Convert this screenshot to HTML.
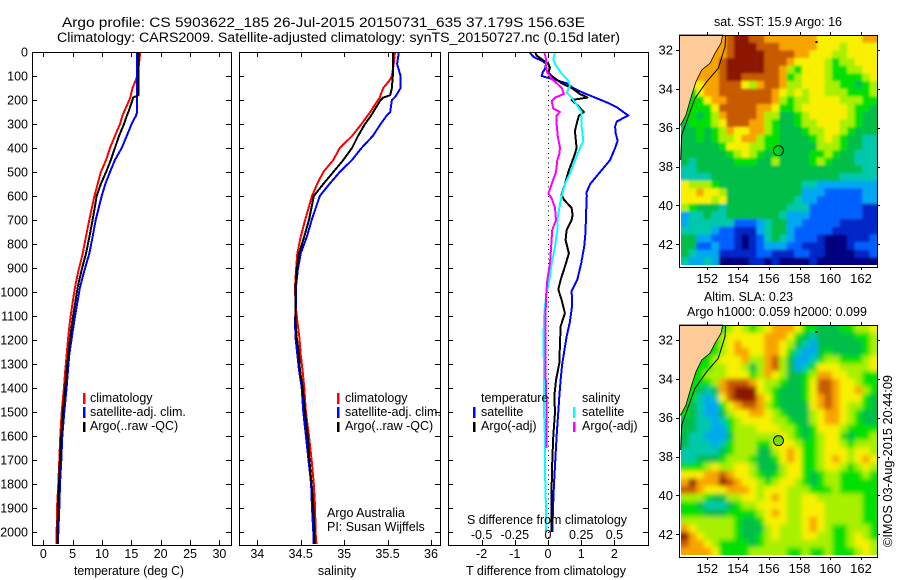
<!DOCTYPE html>
<html>
<head>
<meta charset="utf-8">
<title>Argo profile</title>
<style>
html,body{margin:0;padding:0;background:#fff;}
svg{display:block;font-family:"Liberation Sans",sans-serif;fill:#000;}
text{font-size:12.5px;}
.t{font-size:13.5px;}
</style>
</head>
<body>
<svg id="chart" xmlns="http://www.w3.org/2000/svg" width="900" height="580" viewBox="0 0 900 580">
<defs>
<filter id="soft1" x="-5%" y="-5%" width="110%" height="110%"><feGaussianBlur stdDeviation="1.4"/></filter>
<filter id="soft2" x="-5%" y="-5%" width="110%" height="110%"><feGaussianBlur stdDeviation="2.4"/></filter>
<clipPath id="clipSst"><rect x="681" y="35" width="196.5" height="230"/></clipPath>
<clipPath id="clipSla"><rect x="681" y="325" width="196.5" height="230"/></clipPath>
<clipPath id="clipP1"><rect x="32" y="52" width="199" height="493"/></clipPath>
<clipPath id="clipP2"><rect x="239" y="52" width="201" height="493"/></clipPath>
<clipPath id="clipP3"><rect x="448" y="52" width="200" height="493"/></clipPath>
</defs>
<text class="t" x="62" y="27" textLength="523" lengthAdjust="spacingAndGlyphs">Argo profile: CS 5903622_185 26-Jul-2015 20150731_635 37.179S 156.63E</text>
<text class="t" x="57" y="42" textLength="563" lengthAdjust="spacingAndGlyphs">Climatology: CARS2009. Satellite-adjusted climatology: synTS_20150727.nc (0.15d later)</text>
<g id="layer"></g>
</svg>
<script>
// ---- profile data ----
const depthsProfile = [0,50,100,120,150,180,190,200,250,265,300,350,400,450,500,550,600,700,770,840,910,980,1050,1120,1190,1260,1325,1395,1500,1600,1700,1800,1900,2000,2050];
const tempClim = [16.5,16.3,16.0,15.7,15.2,14.9,14.8,14.65,13.75,13.5,13.07,12.2,11.36,10.7,9.8,9.27,8.7,7.84,7.25,6.71,6.0,5.4,4.95,4.55,4.25,3.98,3.75,3.53,3.13,2.9,2.73,2.55,2.33,2.28,2.25];
const tempSat = [15.96,16,16,16,16,16,16,16,16,15.8,15.05,14.2,13.35,12.2,11.36,10.57,9.95,8.92,8.4,7.84,7.0,6.25,5.75,5.28,4.85,4.43,4.2,3.98,3.58,3.24,3.07,2.85,2.73,2.56,2.5];
const tempArgo = [16.2,16.2,16.2,16.2,16.2,16.2,15.3,15.2,14.5,14.25,13.75,12.9,12.2,11.5,10.7,9.8,9.1,8.4,7.85,7.27,6.5,5.86,5.4,4.94,4.6,4.26,4.0,3.75,3.35,3.07,2.85,2.68,2.5,2.42,2.42];
const salClim = [35.585,35.57,35.55,35.52,35.45,35.42,35.41,35.39,35.30,35.27,35.2,35.09,34.95,34.875,34.76,34.69,34.63,34.55,34.50,34.46,34.446,34.434,34.44,34.46,34.485,34.50,34.52,34.54,34.56,34.595,34.625,34.65,34.665,34.67,34.68];
const salSat = [35.63,35.61,35.65,35.65,35.65,35.6,35.58,35.55,35.53,35.49,35.42,35.33,35.2,35.09,34.95,34.83,34.72,34.626,34.57,34.50,34.465,34.446,34.446,34.434,34.44,34.46,34.48,34.51,34.53,34.56,34.59,34.62,34.63,34.645,34.645];
const salArgo = [35.565,35.56,35.56,35.555,35.55,35.53,35.45,35.42,35.335,35.31,35.24,35.16,35.09,34.99,34.875,34.76,34.65,34.595,34.54,34.48,34.454,34.44,34.44,34.44,34.454,34.48,34.49,34.52,34.55,34.58,34.60,34.625,34.645,34.66,34.66];

const depthsDiffSatT = [0,20,40,50,70,85,100,110,130,150,170,190,210,230,245,265,275,290,310,340,370,400,450,500,550,585,600,700,742,811,880,950,996,1054,1124,1186,1297,1367,1436,1500,1600,1700,1800,1900,2000];
const diffSatT = [-.56,-.44,-.14,-.06,-.09,-.16,-.19,.06,.56,.76,1.06,1.42,1.77,2.07,2.22,2.42,2.27,2.07,2.02,2.04,2.10,2.02,1.87,1.57,1.27,1.16,1.17,1.14,1.135,1.09,1.0,.88,.71,.73,.66,.56,.43,.38,.34,.31,.26,.22,.18,.15,.13];
const depthsDiffArgoT = [0,15,35,50,65,85,105,130,150,175,190,200,225,250,265,300,330,370,400,425,500,550,595,615,650,680,700,742,784,839,894,950,989,1033,1088,1144,1214,1297,1367,1436,1500,1600,1700,1800,1900,2000];
const diffArgoT = [-.39,-.34,-.14,.01,.06,.01,.16,.41,.71,.96,1.19,.71,.91,1.08,.93,.86,.81,.84,.86,.81,.61,.51,.41,.48,.71,.74,.71,.56,.53,.63,.51,.38,.31,.41,.51,.38,.36,.34,.24,.19,.21,.16,.13,.11,.11,.11];
const depthsDiffSatS = [0,30,50,90,120,140,170,190,220,250,280,310,370,400,450,500,550,600,650,700,742,811,880,950,1019,1088,1186,1241,1300,1400,1500,1600,1700,1800,1900,2000];
const diffSatS = [.053,.04,.053,.103,.153,.166,.141,.178,.216,.254,.254,.254,.266,.241,.203,.171,.128,.103,.085,.07,.07,.053,.028,.01,-.015,-.028,-.035,-.035,-.03,-.03,-.03,-.023,-.023,-.02,-.015,-.015];
const depthsDiffArgoS = [0,30,60,85,110,130,150,175,190,205,235,250,265,300,350,400,425,450,500,550,590,610,650,700,742,811,880,950,1019,1158,1300,1400,1500,1650];
const diffArgoS = [-.028,-.015,-.015,-.005,.028,.065,.103,.12,.053,.028,.04,.09,.065,.065,.073,.09,.085,.07,.06,.028,.003,.028,.053,.06,.032,.023,.015,-.005,-.015,-.02,-.02,-.015,-.01,-.01];

// ---- tick labels ----
const depthTicks = [0,100,200,300,400,500,600,700,800,900,1000,1100,1200,1300,1400,1500,1600,1700,1800,1900,2000];
const tempTicks = [0,5,10,15,20,25,30];
const salTicks = [34,34.5,35,35.5,36];
const diffTTicks = [-2,-1,0,1,2];
const diffSTicks = [-0.5,-0.25,0,0.25,0.5];
const lonTicks = [152,154,156,158,160,162];
const latTicks = [-32,-34,-36,-38,-40,-42];

// ---- map data: colour class per cell, north to south ----
const sstGrid = [
[9,9,9,9,9,9,10,11,11,10,10,9,9,9,9,9,9,9,8,8,8,8,8,8,9,9],
[9,9,9,9,9,9,10,11,11,11,10,10,10,9,9,9,9,9,8,8,8,7,8,8,8,8],
[9,9,9,9,9,9,10,11,11,11,11,10,10,10,10,9,9,8,8,8,7,7,8,8,8,8],
[9,9,9,9,9,10,11,11,11,11,11,10,10,10,9,8,8,8,8,7,6,7,7,8,8,8],
[9,9,9,9,9,10,11,11,11,11,11,10,10,9,7,6,8,8,8,7,6,6,7,7,8,8],
[9,9,9,9,9,10,11,11,10,10,10,10,10,9,6,7,8,8,8,7,6,6,6,6,7,8],
[8,8,8,9,9,10,10,10,8,7,9,10,10,9,7,7,8,8,8,7,7,6,6,5,6,7],
[6,6,8,9,9,10,10,10,10,10,10,10,9,8,7,8,7,8,8,7,7,7,6,6,6,7],
[6,6,6,8,9,9,10,10,10,10,10,10,9,7,6,7,7,8,8,8,8,7,7,7,6,6],
[6,6,6,6,8,10,10,10,10,10,9,9,8,6,6,7,8,8,8,8,8,8,7,6,6,5],
[6,6,5,6,7,9,10,10,10,10,9,7,7,5,5,6,7,8,8,8,8,8,7,6,5,5],
[5,6,6,6,7,8,10,10,10,9,9,7,6,5,5,6,7,7,8,8,8,7,7,6,5,5],
[5,5,6,5,6,7,9,8,8,9,9,7,6,5,5,5,6,7,7,8,8,7,6,5,5,5],
[5,5,6,5,6,7,7,8,9,9,7,6,6,5,5,5,5,6,7,8,7,6,5,5,4,4],
[5,5,5,5,5,6,8,8,8,7,7,6,6,5,5,5,5,5,7,7,7,6,5,5,4,4],
[5,5,5,5,5,5,6,7,8,7,6,5,6,5,5,5,5,6,6,7,6,5,5,4,4,4],
[5,4,5,5,5,5,5,6,6,6,5,5,7,5,5,5,5,6,7,6,5,5,5,4,4,4],
[4,4,5,5,5,5,5,5,5,5,5,5,5,5,5,5,5,5,5,5,5,5,5,5,4,4],
[4,4,4,4,5,5,5,5,5,5,5,5,5,5,5,5,5,5,5,5,5,4,4,4,4,4],
[8,7,7,7,6,5,5,5,5,5,5,5,5,5,5,5,4,4,3,3,3,3,3,3,3,3],
[8,8,9,8,8,7,5,5,5,5,5,5,5,5,5,5,3,3,3,2,2,2,2,2,3,3],
[8,8,8,8,7,8,5,5,5,5,5,5,5,5,5,4,3,3,2,2,2,2,2,2,3,3],
[7,6,5,5,5,4,5,5,5,5,5,5,5,5,4,4,4,2,2,2,2,2,2,2,1,1],
[3,4,4,5,4,4,5,5,5,5,5,5,5,4,3,3,3,2,2,2,2,2,2,2,1,1],
[3,4,4,4,4,4,4,2,2,2,3,4,5,5,3,3,2,2,2,2,2,1,1,1,1,1],
[4,4,4,4,3,2,2,1,1,1,3,4,5,5,3,2,2,2,2,2,1,1,1,1,1,1],
[5,5,3,3,2,2,2,1,0,1,2,4,5,4,3,2,2,2,1,0,0,0,1,1,1,2],
[5,5,2,2,3,2,2,1,0,1,2,3,3,3,2,2,1,1,1,0,0,0,1,2,2,2],
[5,4,3,3,3,1,1,1,1,1,2,2,1,1,1,2,2,1,1,0,0,0,0,1,1,2],
[4,3,3,4,3,0,0,0,0,1,1,0,1,0,0,0,0,1,0,0,0,0,0,0,0,0]
];
const slaGrid = [
[6,6,6,6,6,6,7,8,7,6,7,8,9,9,9,8,6,6,5,5,5,6,6,7,7,8],
[6,6,6,6,6,7,8,8,8,8,8,9,9,9,8,6,5,4,5,5,5,5,5,6,6,7],
[6,6,6,6,6,7,8,9,8,8,8,9,9,8,7,5,4,3,5,5,5,5,5,5,6,7],
[6,6,6,6,6,7,8,9,9,8,8,9,9,8,6,4,3,3,5,6,5,5,5,5,6,7],
[6,6,6,6,7,8,8,8,9,7,7,9,10,7,5,3,3,4,6,7,7,6,6,6,7,8],
[6,6,6,6,7,7,8,8,7,5,7,9,10,7,5,3,4,6,8,8,8,7,7,7,7,8],
[6,6,6,7,7,7,8,8,8,6,7,9,8,7,5,5,6,7,9,9,8,8,7,7,6,6],
[6,6,6,6,7,9,10,10,10,9,8,7,7,6,5,5,6,8,10,10,9,8,8,7,6,6],
[6,6,5,4,5,9,10,11,11,11,8,7,6,5,5,5,6,8,10,10,9,8,8,9,7,6],
[6,6,4,3,4,8,10,11,11,11,9,8,6,5,5,5,6,8,9,10,9,8,8,8,6,5],
[6,5,4,3,3,6,8,9,10,10,9,7,6,5,5,5,5,8,9,10,9,8,7,7,6,5],
[6,5,4,3,3,5,7,8,8,9,9,8,7,6,5,5,5,7,8,9,9,8,7,6,5,5],
[5,5,4,4,3,4,6,7,8,8,8,8,7,7,6,5,5,7,8,9,9,8,7,6,5,5],
[5,5,4,4,3,3,6,7,7,7,8,8,8,7,7,6,5,6,8,8,8,7,6,6,6,6],
[5,4,4,3,3,3,5,7,7,7,7,7,7,8,7,6,5,6,7,8,8,6,5,6,6,7],
[5,4,4,4,3,4,6,7,7,7,6,6,8,8,8,7,6,6,7,8,8,7,6,7,7,7],
[4,4,4,4,4,5,6,7,7,7,5,5,7,8,9,8,6,6,7,8,8,8,7,8,8,7],
[4,4,5,5,5,6,7,7,7,6,5,5,6,8,9,8,6,6,7,8,9,8,7,8,9,8],
[6,6,6,7,8,7,7,8,8,7,5,5,5,7,8,8,6,6,7,8,8,7,6,7,8,7],
[8,8,8,9,9,10,9,8,8,7,6,5,6,7,8,8,6,5,6,7,7,6,6,6,7,6],
[9,11,9,9,9,11,10,9,8,8,7,6,7,8,8,7,6,5,6,7,7,6,6,6,6,6],
[10,10,9,8,8,8,9,9,9,8,7,8,8,8,7,7,7,6,6,6,7,6,6,6,6,6],
[7,7,7,6,5,5,7,7,8,8,7,8,9,8,7,7,8,8,7,7,7,7,7,7,6,6],
[6,6,5,4,4,4,5,6,7,7,8,8,8,8,7,7,8,8,8,7,7,7,7,7,6,6],
[6,6,6,5,5,5,6,6,6,6,7,8,9,8,7,7,8,8,8,7,7,7,7,7,6,6],
[7,7,7,7,7,7,7,6,5,5,6,8,8,8,7,7,8,9,8,7,7,7,7,7,6,6],
[9,8,7,7,7,7,7,6,5,5,5,7,8,7,7,7,8,9,8,7,6,6,7,7,7,6],
[11,9,8,7,7,7,7,6,5,5,6,7,8,7,7,7,8,8,7,7,6,6,7,8,7,6],
[10,9,9,8,7,6,6,6,6,5,6,7,7,7,7,7,7,7,7,7,6,6,7,8,8,7],
[9,9,9,9,8,6,6,6,6,7,7,7,7,7,6,6,7,6,6,7,6,6,6,7,8,7]
];
const colourScale = ['#000080','#0028c8','#0060ff','#00a8f0','#00c8aa','#00be46','#00e000','#a8f000','#f8f000','#f8a400','#c85a00','#8c1400'];
const argoLon = 156.63;
const argoLat = -37.18;

// ---- scales ----
const P = {top:52,bottom:545};
function depthY(d){return 52+0.24*d;}
function tempX(t){return 43.3+5.87*t;}
function salX(s){return 257.3+86.85*(s-34);}
function diffTX(t){return 548+33.2*t;}
function diffSX(s){return 548+132.8*s;}
function lonX(l){return 707.3+(l-152)*15.37;}
function latY1(l){return 50+(-32-l)*19.43;}
function latY2(l){return 340+(-32-l)*19.43;}

const NS='http://www.w3.org/2000/svg';
const layer=document.getElementById('layer');
function make(tag,attrs,parent){
  const el=document.createElementNS(NS,tag);
  for(const k in attrs){el.setAttribute(k,attrs[k]);}
  (parent||layer).appendChild(el);
  return el;
}
function label(str,x,y,anchor,name,extra){
  const el=make('text',Object.assign({x:x,y:y,'text-anchor':anchor||'start'},extra||{}));
  el.textContent=str;
  
  
  return el;
}
function frame(x0,y0,x1,y1,name){
  const el=make('rect',{x:x0+.5,y:y0+.5,width:x1-x0,height:y1-y0,fill:'none',stroke:'#000','stroke-width':1,'shape-rendering':'crispEdges'});
  
  
}
function tick(x1,y1,x2,y2,name){
  const el=make('line',{x1:x1,y1:y1,x2:x2,y2:y2,stroke:'#000','stroke-width':1,'shape-rendering':'crispEdges'});
  
  
}
function profile(xs,ds,sx,color,w,clip,name){
  const pts=xs.map(function(v,i){return sx(v).toFixed(1)+','+depthY(ds[i]).toFixed(1);}).join(' ');
  const el=make('polyline',{points:pts,fill:'none',stroke:color,'stroke-width':w,'clip-path':'url(#'+clip+')','shape-rendering':'crispEdges','stroke-linejoin':'round'});
  
  
}
function legendBar(x,y,h,color,name){
  const el=make('rect',{x:x,y:y,width:2.4,height:h,fill:color,'shape-rendering':'crispEdges'});
  
  
}

// ---- panel frames and ticks ----
function panelTicks(x0,x1,xTicks,sx,prefix){
  depthTicks.forEach(function(d){
    const y=Math.round(depthY(d))+.5;
    tick(x0,y,x0+5,y,prefix+'-depth-tick');
    tick(x1-5,y,x1,y,prefix+'-depth-tick');
  });
  xTicks.forEach(function(v){
    const x=Math.round(sx(v))+.5;
    tick(x,P.top,x,P.top+5,prefix+'-x-tick');
    tick(x,P.bottom-5,x,P.bottom,prefix+'-x-tick');
    label(String(v),sx(v),558,'middle',prefix+'-x-tick-label');
  });
}
depthTicks.forEach(function(d){label(String(d),28,depthY(d)+4.5,'end','depth-tick-label');});

// panel 1
profile(tempClim,depthsProfile,tempX,'#ff0000',2,'clipP1','temperature-climatology-line');
profile(tempSat,depthsProfile,tempX,'#0000ff',2,'clipP1','temperature-satellite-line');
profile(tempArgo,depthsProfile,tempX,'#000000',2,'clipP1','temperature-argo-line');
frame(32,52,231,545,'temperature-panel-frame');
panelTicks(32,231,tempTicks,tempX,'temperature');
label('temperature (deg C)',129,575,'middle','temperature-axis-title',{textLength:110,lengthAdjust:'spacingAndGlyphs'});
legendBar(83,393,11,'#ff0000','legend-bar-climatology');
legendBar(83,407,11,'#0000ff','legend-bar-satellite');
legendBar(83,422,10,'#000000','legend-bar-argo');
label('climatology',90,402,'start','legend-climatology');
label('satellite-adj. clim.',90,416,'start','legend-satellite-adj');
label('Argo(..raw -QC)',90,430,'start','legend-argo-raw');

// panel 2
profile(salClim,depthsProfile,salX,'#ff0000',2,'clipP2','salinity-climatology-line');
profile(salSat,depthsProfile,salX,'#0000ff',2,'clipP2','salinity-satellite-line');
profile(salArgo,depthsProfile,salX,'#000000',2,'clipP2','salinity-argo-line');
frame(239,52,440,545,'salinity-panel-frame');
panelTicks(239,440,salTicks,salX,'salinity');
label('salinity',337,575,'middle','salinity-axis-title');
legendBar(337,393,11,'#ff0000','legend-bar-climatology-2');
legendBar(337,407,11,'#0000ff','legend-bar-satellite-2');
legendBar(337,422,10,'#000000','legend-bar-argo-2');
label('climatology',345,402,'start','legend-climatology-2');
label('satellite-adj. clim.',345,416,'start','legend-satellite-adj-2');
label('Argo(..raw -QC)',345,430,'start','legend-argo-raw-2');
label('Argo Australia',327,517,'start','argo-australia-note');
label('PI: Susan Wijffels',327,531,'start','pi-name-note');

// panel 3
(function(){
  for(let d=0;d<2050;d+=20){
    const el=make('rect',{x:548,y:depthY(d),width:1,height:1,fill:'#000','shape-rendering':'crispEdges'});
    
    
  }
})();
profile(diffSatT,depthsDiffSatT,diffTX,'#0000ff',2,'clipP3','t-diff-satellite-line');
profile(diffArgoT,depthsDiffArgoT,diffTX,'#000000',2,'clipP3','t-diff-argo-line');
profile(diffSatS,depthsDiffSatS,diffSX,'#00ffff',2,'clipP3','s-diff-satellite-line');
profile(diffArgoS,depthsDiffArgoS,diffSX,'#ff00ff',2,'clipP3','s-diff-argo-line');
frame(448,52,648,545,'difference-panel-frame');
panelTicks(448,648,diffTTicks,diffTX,'t-diff');
label('T difference from climatology',546,575,'middle','t-difference-axis-title',{textLength:160,lengthAdjust:'spacingAndGlyphs'});
label('S difference from climatology',547,524,'middle','s-difference-axis-title',{textLength:160,lengthAdjust:'spacingAndGlyphs'});
diffSTicks.forEach(function(v){label(String(v),diffSX(v),539,'middle','s-diff-tick-label');});
label('temperature',481,402,'start','legend-temperature-heading');
label('salinity',582,402,'start','legend-salinity-heading');
legendBar(473,407,11,'#0000ff','legend-bar-t-satellite');
legendBar(473,422,10,'#000000','legend-bar-t-argo');
label('satellite',481,416,'start','legend-t-satellite');
label('Argo(-adj)',481,430,'start','legend-t-argo');
legendBar(573,407,11,'#00ffff','legend-bar-s-satellite');
legendBar(573,422,10,'#ff00ff','legend-bar-s-argo');
label('satellite',582,416,'start','legend-s-satellite');
label('Argo(-adj)',582,430,'start','legend-s-argo');

// ---- maps ----
const gridWest=150.3, gridEast=163.06, gridNorth=-31.23, gridSouth=-43.07;
function drawMap(grid,latY,filter,clip,name){
  const outer=make('g',{'clip-path':'url(#'+clip+')'});
  
  
  const g=make('g',{filter:'url(#'+filter+')'},outer);
  const rows=grid.length, cols=grid[0].length;
  const dLon=(gridEast-gridWest)/cols, dLat=(gridNorth-gridSouth)/rows;
  grid.forEach(function(row,r){
    row.forEach(function(v,c){
      let x=lonX(gridWest+c*dLon), x2=lonX(gridWest+(c+1)*dLon);
      let y=latY(gridNorth-r*dLat), y2=latY(gridNorth-(r+1)*dLat);
      if(c===0){x-=10;}
      if(c===cols-1){x2+=10;}
      if(r===0){y-=10;}
      if(r===rows-1){y2+=10;}
      const el=make('rect',{x:x.toFixed(2),y:y.toFixed(2),width:(x2-x+.3).toFixed(2),height:(y2-y+.3).toFixed(2),fill:colourScale[v]},g);
      
      
    });
  });
}
function drawCoast(dy,name){
  const land=make('polygon',{points:'679.5,'+(35+dy)+' 722.7,'+(35+dy)+' 721,'+(43.3+dy)+' 715,'+(53.3+dy)+' 710,'+(63.3+dy)+' 701.7,'+(70+dy)+' 696,'+(81.7+dy)+' 691.7,'+(95+dy)+' 688.3,'+(106.7+dy)+' 686,'+(115+dy)+' 680.7,'+(125+dy)+' 679.5,'+(125+dy),fill:'#ffcc99',stroke:'#000','stroke-width':.8});
  
  
  const iso=make('polyline',{points:'725.7,'+(35+dy)+' 725,'+(46.7+dy)+' 718.3,'+(68.3+dy)+' 706.7,'+(81.7+dy)+' 695,'+(98.3+dy)+' 688.3,'+(116.7+dy)+' 681.7,'+(135+dy)+' 680.7,'+(160+dy),fill:'none',stroke:'#000','stroke-width':1});
  
  
  const isle=make('rect',{x:815.5,y:41+dy,width:2,height:2,fill:'#000'});
  
  
}
function mapAxes(y0,y1,latY,name){
  frame(679,y0,877,y1,name+'-frame');
  lonTicks.forEach(function(l){
    const x=Math.round(lonX(l))+.5;
    tick(x,y0-3,x,y0,name+'-lon-tick');
    tick(x,y1,x,y1+3,name+'-lon-tick');
    label(String(l),lonX(l),y1+16,'middle',name+'-lon-label',{style:'font-size:13px'});
  });
  latTicks.forEach(function(l){
    const y=Math.round(latY(l))+.5;
    tick(676,y,679,y,name+'-lat-tick');
    tick(877,y,880,y,name+'-lat-tick');
    label(String(Math.abs(l)),673,latY(l)+4.5,'end',name+'-lat-label',{style:'font-size:13px'});
  });
}
function marker(latY,fill,name){
  const el=make('circle',{cx:lonX(argoLon),cy:latY(argoLat),r:5,fill:fill,stroke:'#000','stroke-width':1});
  
  
}
drawMap(sstGrid,latY1,'soft1','clipSst','sst-map');
drawCoast(0,'sst-map');
mapAxes(35,267,latY1,'sst-map');
marker(latY1,'none','sst-argo-marker');
label('sat. SST: 15.9 Argo: 16',778,26,'middle','sst-map-title',{textLength:128,lengthAdjust:'spacingAndGlyphs'});

drawMap(slaGrid,latY2,'soft2','clipSla','sla-map');
drawCoast(290,'sla-map');
mapAxes(325,557,latY2,'sla-map');
marker(latY2,'#78dc00','sla-argo-marker');
label('Altim. SLA: 0.23',704,301,'start','sla-map-title',{textLength:89,lengthAdjust:'spacingAndGlyphs'});
label('Argo h1000: 0.059 h2000: 0.099',687,316,'start','sla-map-subtitle',{textLength:180,lengthAdjust:'spacingAndGlyphs'});
label('\u00a9IMOS 03-Aug-2015 20:44:09',892,547,'start','timestamp-credit',{transform:'rotate(-90 892 547)',textLength:172,lengthAdjust:'spacingAndGlyphs'});
</script>
</body>
</html>
